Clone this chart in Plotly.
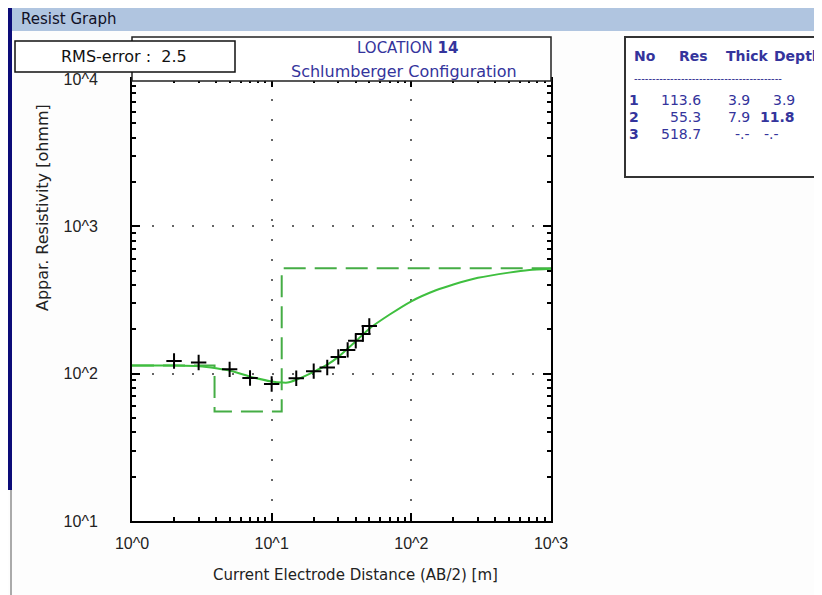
import plotly.graph_objects as go

# ---------------- data ----------------
obs_x = [2, 3, 5, 7, 10, 15, 20, 25, 30, 35, 40, 45, 50]
obs_y = [122, 119, 107, 93.5, 85, 93, 104, 110, 130, 145, 167, 186, 211]

curve_x = [1, 1.5, 2, 3, 4, 5, 7, 10, 12, 13, 15, 20, 25, 30, 40, 50, 70, 100,
           150, 200, 300, 500, 700, 1000]
curve_y = [113.6, 113.6, 113.5, 112.5, 109, 105, 95.5, 88.5, 87, 87, 91, 103,
           115, 130, 166, 202, 252, 310, 368, 403, 447, 485, 505, 515]

layer_no = ["1", "2", "3"]
layer_res = [113.6, 55.3, 518.7]
layer_thick = ["3.9", "7.9", "-.-"]
layer_depth = ["3.9", "<b>11.8</b>", "-.-"]
depth_vals = [3.9, 11.8]

x_range = [1, 1000]
tick_vals = [1, 10, 100, 1000]
x_tick_text = ["10^0", "10^1", "10^2", "10^3"]
y_tick_vals = [10, 100, 1000, 10000]
y_tick_text = ["10^1", "10^2", "10^3", "10^4"]
rms_error = "2.5"
location = "14"

# ---------------- geometry helpers (screen pixels; page has 8px body margin) ----
OFF = 8
W, H = 822 - OFF, 595 - OFF
L, R, T, B = 132 - OFF, 271, 79 - OFF, 74
PW = W - L - R
PH = H - T - B


def px(x):
    return (x - OFF - L) / PW


def py(y):
    return (H + OFF - B - y) / PH


FONT = "DejaVu Sans, Verdana, sans-serif"
TICKFONT = "Liberation Sans, Arial, sans-serif"
BLUE = "#34349c"

fig = go.Figure()

# model (layer) step line
step_x = [x_range[0]] + depth_vals + [x_range[1]]
step_y = layer_res + [layer_res[-1]]
fig.add_trace(go.Scatter(
    x=step_x, y=step_y, mode="lines",
    line=dict(color="#45ad45", width=2, dash="22px,9px", shape="hv"),
    hoverinfo="skip", showlegend=False))

# calculated curve
fig.add_trace(go.Scatter(
    x=curve_x, y=curve_y, mode="lines",
    line=dict(color="#3fbf3f", width=2, shape="spline", smoothing=0.6),
    showlegend=False))

# field data
fig.add_trace(go.Scatter(
    x=obs_x, y=obs_y, mode="markers",
    marker=dict(symbol="cross-thin", size=11, color="black",
                line=dict(width=2, color="black")),
    showlegend=False))

minor_x = [m * 10 ** k for k in range(0, 3) for m in range(2, 10)]
minor_y = [m * 10 ** k for k in range(1, 4) for m in range(2, 10)]

common_axis = dict(
    type="log", showline=True, linecolor="black", linewidth=2, mirror="ticks",
    ticks="inside", ticklen=8, tickwidth=1.5, tickcolor="black",
    showgrid=True, gridcolor="#666666", gridwidth=2, griddash="2px,18px",
    zeroline=False, tickfont=dict(family=TICKFONT, size=16, color="#222222"),
)

fig.update_xaxes(
    range=[0, 3], tickvals=tick_vals, ticktext=x_tick_text,
    minor=dict(tickvals=minor_x, ticks="inside", ticklen=4, tickcolor="black",
               showgrid=False),
    ticklabelstandoff=7, **common_axis)
fig.update_yaxes(
    range=[1, 4], tickvals=y_tick_vals, ticktext=y_tick_text,
    minor=dict(tickvals=minor_y, ticks="inside", ticklen=4, tickcolor="black",
               showgrid=False),
    ticklabelstandoff=29, **common_axis)

shapes = [
    # window title bar
    dict(type="rect", xref="paper", yref="paper", x0=px(12), x1=px(830),
         y0=py(31), y1=py(8), fillcolor="#b0c5e0", line=dict(width=0),
         layer="above"),
    # left navy strip
    dict(type="rect", xref="paper", yref="paper", x0=px(8), x1=px(12),
         y0=py(490), y1=py(8), fillcolor="#0c0c78", line=dict(width=0),
         layer="above"),
    dict(type="rect", xref="paper", yref="paper", x0=px(10), x1=px(12),
         y0=py(600), y1=py(490), fillcolor="#aaaaaa", line=dict(width=0),
         layer="above"),
    # title box
    dict(type="rect", xref="paper", yref="paper", x0=px(132), x1=px(551),
         y0=py(81), y1=py(37), fillcolor="white",
         line=dict(color="#222222", width=1.5), layer="above"),
    # RMS box
    dict(type="rect", xref="paper", yref="paper", x0=px(15), x1=px(235),
         y0=py(72), y1=py(41), fillcolor="white",
         line=dict(color="#111111", width=1.5), layer="above"),
    # table box
    dict(type="rect", xref="paper", yref="paper", x0=px(625), x1=px(840),
         y0=py(177), y1=py(37), fillcolor="white",
         line=dict(color="#333333", width=2), layer="above"),
]

ann = []


def text(x, y, s, size=15, color=BLUE, xanchor="left", angle=0):
    ann.append(dict(x=px(x), y=py(y), xref="paper", yref="paper", text=s,
                    showarrow=False, xanchor=xanchor, yanchor="middle",
                    textangle=angle,
                    font=dict(family=FONT, size=size, color=color)))


text(19, 19, "Resist Graph", size=15, color="#101025")
text(124, 57, "RMS-error :\u00a0\u00a0" + rms_error, size=16, color="#111111",
     xanchor="center")
text(407, 48, "LOCATION <b>" + location + "</b>", size=15, xanchor="center")
text(404, 71, "Schlumberger Configuration", size=16, xanchor="center")

# table
text(632, 56, "<b>No</b>", size=14)
text(677, 56, "<b>Res</b>", size=14)
text(724, 56, "<b>Thick</b>", size=14)
text(772, 56, "<b>Depth</b>", size=14)
text(632, 78, "-" * 41, size=10, color="#2a2a90")
row_y = [100, 117, 134]
for i in range(3):
    text(641, row_y[i], "<b>" + layer_no[i] + "</b>", size=14, xanchor="right")
    text(703, row_y[i], f"{layer_res[i]:.1f}", size=14, xanchor="right")
    text(752, row_y[i], layer_thick[i], size=14, xanchor="right")
    text(797 if layer_depth[i] != "-.-" else 781, row_y[i], layer_depth[i],
         size=14, xanchor="right")

# axis titles
text(355, 575, "Current Electrode Distance (AB/2) [m]", size=15,
     color="#222222", xanchor="center")
text(43, 208, "Appar. Resistivity [ohmm]", size=16, color="#222222",
     xanchor="center", angle=-90)

fig.update_layout(
    width=W, height=H, margin=dict(l=L, r=R, t=T, b=B, pad=0),
    paper_bgcolor="#fdfdfd", plot_bgcolor="white",
    shapes=shapes, annotations=ann, showlegend=False,
)

fig.write_html("out.html")
